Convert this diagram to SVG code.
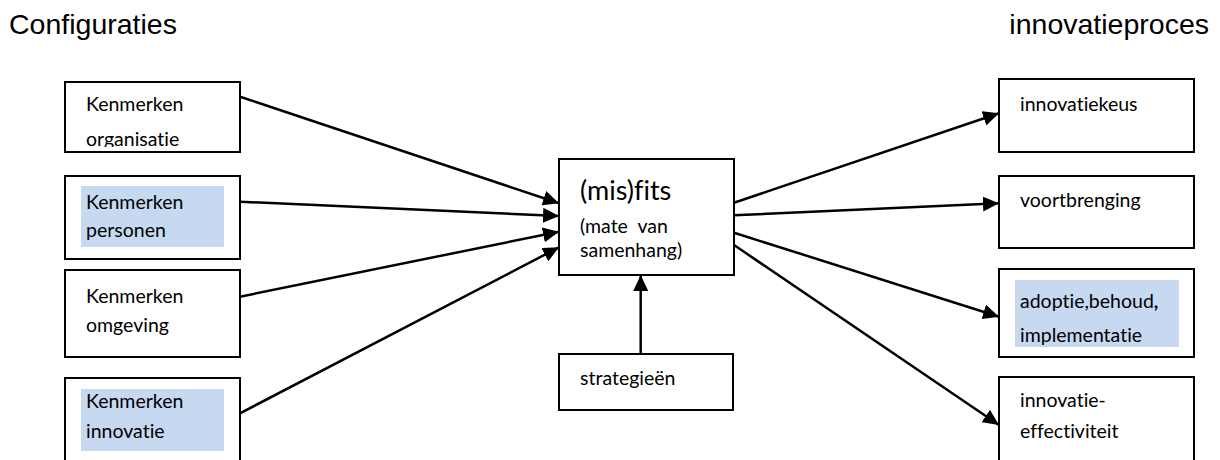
<svg xmlns="http://www.w3.org/2000/svg" width="1220" height="460" viewBox="0 0 1220 460">
<style>
.box{fill:#fff;stroke:#000;stroke-width:2}
.hl{fill:#c6d9f1;stroke:none}
.t{font-family:Lato,"Open Sans","Liberation Sans",sans-serif;font-size:19.5px;fill:#000;font-variant-ligatures:none}
.big{font-family:Lato,"Open Sans","Liberation Sans",sans-serif;font-size:27px;fill:#000;font-variant-ligatures:none}
.head{font-family:"Liberation Sans",Arial,sans-serif;font-size:28.5px;fill:#000}
.con{stroke:#000;stroke-width:2.5;fill:none;marker-end:url(#arr)}
</style>
<defs>
<marker id="arr" markerUnits="userSpaceOnUse" markerWidth="17" markerHeight="15" refX="16" refY="7.5" orient="auto">
<path d="M0,0 L16,7.5 L0,15 Z" fill="#000"/>
</marker>
<clipPath id="c1"><rect x="66" y="83" width="173" height="64"/></clipPath>
</defs>
<rect width="1220" height="460" fill="#fff"/>
<g id="heading-left"><text class="head" x="9" y="34">Configuraties</text></g>
<g id="heading-right"><text class="head" x="1209" y="34" text-anchor="end">innovatieproces</text></g>

<g id="connectors">
<line class="con" x1="240" y1="96.7" x2="559" y2="203.3"/>
<line class="con" x1="240" y1="201.7" x2="559" y2="216"/>
<line class="con" x1="240" y1="296.7" x2="559" y2="231.7"/>
<line class="con" x1="240" y1="413.3" x2="559" y2="247.3"/>
<line class="con" x1="734" y1="202.7" x2="999" y2="113.3"/>
<line class="con" x1="734" y1="215.3" x2="999" y2="203.3"/>
<line class="con" x1="734" y1="232.7" x2="999" y2="316.7"/>
<line class="con" x1="734" y1="245" x2="999" y2="425"/>
<line class="con" x1="640.7" y1="354" x2="640.7" y2="275"/>
</g>

<g id="kenmerken-organisatie">
<rect class="box" x="65" y="82" width="175" height="70"/>
<g clip-path="url(#c1)">
<text class="t" x="86" y="110.7">Kenmerken</text>
<text class="t" x="86" y="146">organisatie</text>
</g>
</g>
<g id="kenmerken-personen">
<rect class="box" x="65" y="176" width="175" height="83"/>
<rect class="hl" x="81" y="186" width="143" height="61"/>
<text class="t" x="86" y="209">Kenmerken</text>
<text class="t" x="86" y="237">personen</text>
</g>
<g id="kenmerken-omgeving">
<rect class="box" x="65" y="270" width="175" height="87"/>
<text class="t" x="86" y="303.3">Kenmerken</text>
<text class="t" x="86" y="331.7">omgeving</text>
</g>
<g id="kenmerken-innovatie">
<rect class="box" x="65" y="378" width="175" height="90"/>
<rect class="hl" x="81" y="389" width="143" height="62"/>
<text class="t" x="86" y="408.3">Kenmerken</text>
<text class="t" x="86" y="438.3">innovatie</text>
</g>

<g id="misfits">
<rect class="box" x="559" y="159" width="175" height="116"/>
<text class="big" x="580" y="200">(mis)fits</text>
<text class="t" x="580" y="233" xml:space="preserve">(mate  van</text>
<text class="t" x="580" y="256.7">samenhang)</text>
</g>
<g id="strategieen">
<rect class="box" x="559" y="354" width="174" height="56"/>
<text class="t" x="580" y="385">strategieën</text>
</g>

<g id="innovatiekeus">
<rect class="box" x="999" y="79" width="195" height="73"/>
<text class="t" x="1020" y="110.7">innovatiekeus</text>
</g>
<g id="voortbrenging">
<rect class="box" x="999" y="176" width="195" height="72"/>
<text class="t" x="1020" y="206.7">voortbrenging</text>
</g>
<g id="adoptie">
<rect class="box" x="999" y="269" width="195" height="88"/>
<rect class="hl" x="1015" y="280" width="164" height="67"/>
<text class="t" x="1020" y="308.3">adoptie,behoud<tspan font-weight="700">,</tspan></text>
<text class="t" x="1020" y="341.7">implementatie</text>
</g>
<g id="innovatie-effectiviteit">
<rect class="box" x="999" y="377" width="195" height="90"/>
<text class="t" x="1020" y="406.7">innovatie-</text>
<text class="t" x="1020" y="438.3">effectiviteit</text>
</g>
</svg>
